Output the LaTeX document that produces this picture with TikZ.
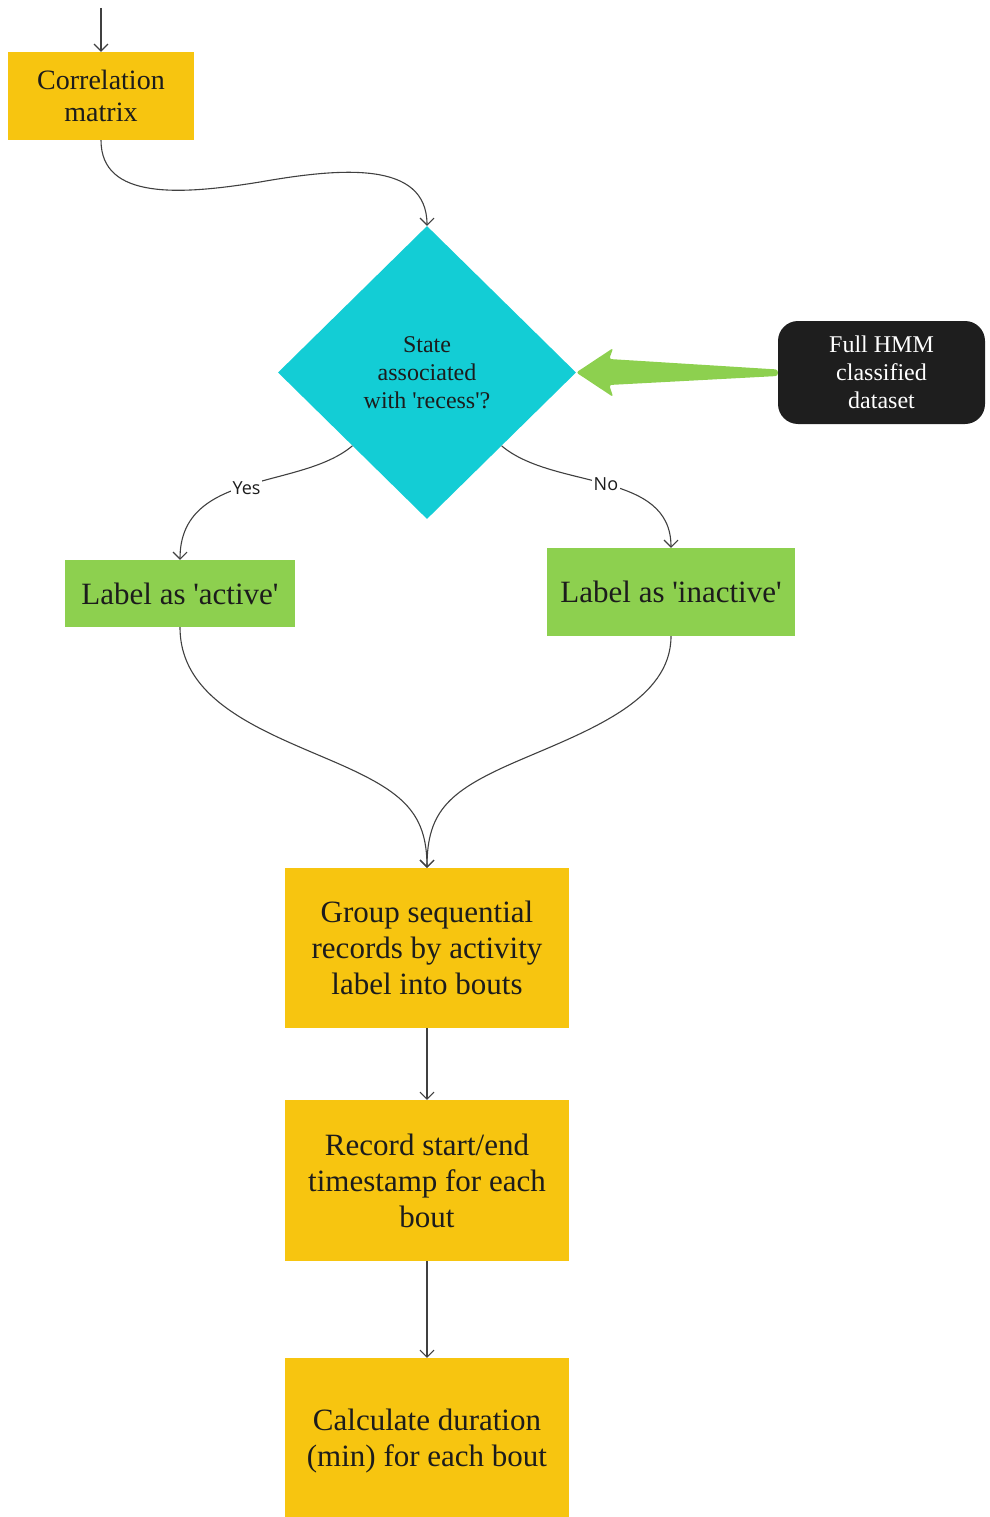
\documentclass[tikz,border=0pt]{standalone}
\usepackage{fontspec}
\setmainfont{Liberation Serif}
\newfontfamily\labelfont{Open Sans}
\usetikzlibrary{shapes.geometric,arrows.meta,calc}
\definecolor{boxyellow}{HTML}{F7C510}
\definecolor{boxcyan}{HTML}{13CDD5}
\definecolor{boxgreen}{HTML}{8DD04F}
\definecolor{boxblack}{HTML}{1E1E1E}
\definecolor{textdark}{HTML}{1C1C1C}
\definecolor{linegray}{HTML}{404040}
\begin{document}
\begin{tikzpicture}[x=1pt,y=-1pt,
  ybox/.style={fill=boxyellow, text=textdark, align=center, inner sep=0pt, minimum width=284pt, font=\fontsize{31}{36}\selectfont},
  gbox/.style={fill=boxgreen, text=textdark, align=center, inner sep=0pt, font=\fontsize{31}{36}\selectfont},
  conn/.style={draw=linegray, line width=1.1pt, -{Straight Barb[length=7pt,width=14pt]}},
  lab/.style={fill=white, text=textdark, inner sep=2pt, font=\labelfont\fontsize{18}{20}\selectfont}]
\useasboundingbox (0,0) rectangle (989,1517);

% nodes
\node[ybox, minimum width=186pt, minimum height=88pt, font=\fontsize{28}{32}\selectfont] (cm) at (101,96) {Correlation\\matrix};
\node[diamond, fill=boxcyan, text=textdark, minimum width=298pt, minimum height=293pt, inner sep=0pt, align=center, font=\fontsize{24}{28}\selectfont] (d) at (427,372.5) {State\\associated\\with \textquotesingle recess\textquotesingle ?};
\node[fill=boxblack, rounded corners=20pt, minimum width=207pt, minimum height=103pt, inner sep=0pt, text=white, align=center, font=\fontsize{24}{28}\selectfont] (h) at (881.5,372.5) {Full HMM\\classified\\dataset};
\node[gbox, minimum width=230pt, minimum height=67pt] (a) at (180,593.5) {Label as \textquotesingle active\textquotesingle};
\node[gbox, minimum width=248pt, minimum height=88pt] (i) at (671,592) {Label as \textquotesingle inactive\textquotesingle};
\node[ybox, minimum height=160pt] (g) at (427,948) {Group sequential\\records by activity\\label into bouts};
\node[ybox, minimum height=161pt] (r) at (427,1180.5) {Record start/end\\timestamp for each\\bout};
\node[ybox, minimum height=167pt] (c) at (427,1441.5) {Calculate duration\\(min) for each bout};
\coordinate (top) at (101,8);

% connectors
\draw[conn] (top) -- (cm.north);
\draw[conn] (cm.south) .. controls (101,200) and (180,195) .. (260,182) .. controls (340,168) and (427,160) .. (d.north);
\draw[conn] (d.south west) .. controls (300,490) and (180,470) .. node[lab, pos=0.5, yshift=-2pt] {Yes} (a.north);
\draw[conn] (d.south east) .. controls (554,490) and (671,470) .. node[lab, pos=0.5] {No} (i.north);
\draw[conn] (a.south) .. controls (180,700) and (260,730) .. (330,760) .. controls (400,790) and (427,810) .. (g.north);
\draw[conn] (i.south) .. controls (671,700) and (590,730) .. (520,760) .. controls (450,790) and (427,810) .. (g.north);
\draw[conn] (g.south) -- (r.north);
\draw[conn] (r.south) -- (c.north);

% big green arrow from dataset to diamond
\fill[boxgreen, rounded corners=2.5pt] ($(h.west)+(0,-3)$) -- ($(d.east)+(33,-13.5)$) -- ($(d.east)+(37,-24.5)$) -- (d.east) -- ($(d.east)+(37,24.5)$) -- ($(d.east)+(33,12.5)$) -- ($(h.west)+(0,3.5)$) -- cycle;
\end{tikzpicture}
\end{document}
